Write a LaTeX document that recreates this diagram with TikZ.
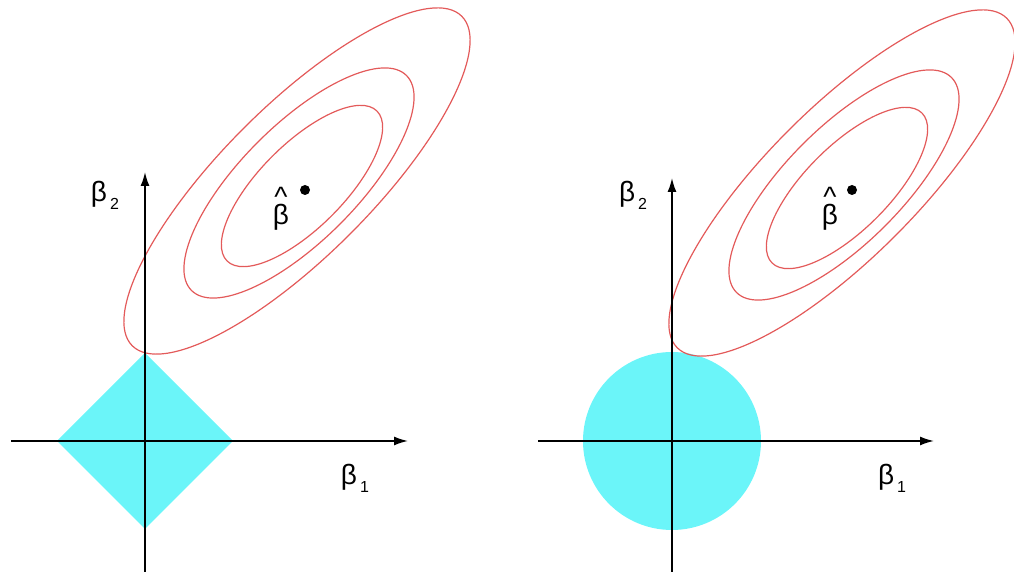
\documentclass[tikz,border=0pt]{standalone}
\usepackage{fontspec}
\setmainfont{Liberation Sans}
\usetikzlibrary{arrows.meta}
\definecolor{ellred}{HTML}{E35A5A}
\definecolor{ballcyan}{HTML}{6BF5F9}

\begin{document}
\begin{tikzpicture}[x=0.5pt, y=0.5pt, font=\fontsize{14}{16}\selectfont,
    >={Latex[length=7pt,width=4.5pt]},
    axis/.style={->, line width=0.8pt},
    contour/.style={ellred, line width=0.6pt}]
  \useasboundingbox (0,0) rectangle (1014,572);
  % lasso (left)
  \fill[ballcyan] (57,131) -- (145,219) -- (233,131) -- (145,43) -- cycle;
  \foreach \a/\b/\d in {233/75/0, 152/58/2, 106/42/5}
    \draw[contour, rotate around={45:(297+\d,391-\d)}] (297+\d,391-\d) ellipse [x radius=\a, y radius=\b];
  \draw[axis] (11,131) -- (408,131);
  \draw[axis] (145,0) -- (145,400);
  \fill (305,382) circle (5);
  \node (lhat) at (281,363) {\shortstack{\^{}\\[-4pt]β}};
  \node (lbone) at (355,94) {β\hspace{1.5pt}\raisebox{-4pt}{\fontsize{8}{9}\selectfont 1}};
  \node (lbtwo) at (105,377) {β\hspace{1.5pt}\raisebox{-4pt}{\fontsize{8}{9}\selectfont 2}};
  % ridge (right)
  \fill[ballcyan] (672,131) circle (89);
  \foreach \a/\b/\d in {233/75/0, 152/58/2, 106/42/5}
    \draw[contour, rotate around={45:(842+\d,389-\d)}] (842+\d,389-\d) ellipse [x radius=\a, y radius=\b];
  \draw[axis] (538,131) -- (934,131);
  \draw[axis] (672,0) -- (672,394);
  \fill (852,382) circle (5);
  \node (rhat) at (830,363) {\shortstack{\^{}\\[-4pt]β}};
  \node (rbone) at (892,94) {β\hspace{1.5pt}\raisebox{-4pt}{\fontsize{8}{9}\selectfont 1}};
  \node (rbtwo) at (633,377) {β\hspace{1.5pt}\raisebox{-4pt}{\fontsize{8}{9}\selectfont 2}};
\end{tikzpicture}
\end{document}
